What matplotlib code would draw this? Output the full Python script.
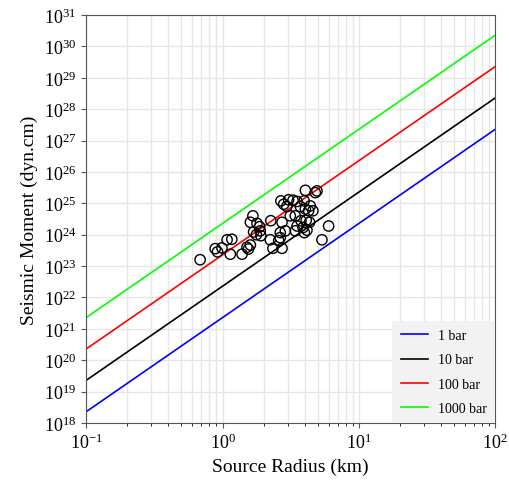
import numpy as np
import matplotlib.pyplot as plt

plt.rcParams['font.family'] = 'Liberation Serif'
plt.rcParams['mathtext.fontset'] = 'stix'

# Source radius (km) and seismic moment (dyn.cm) of the events
radius = [0.685, 0.884, 0.919, 0.99, 1.14, 1.08, 1.17, 1.39, 1.51, 1.60,
          1.55, 1.67, 1.60, 1.79, 1.87, 1.69, 1.77, 1.91, 1.89, 2.24,
          2.34, 2.58, 2.73, 2.65, 2.26, 2.68, 2.81, 3.05, 3.29, 3.52,
          2.96, 4.05, 4.93, 4.79, 3.72, 4.05, 4.28, 4.60, 2.73, 2.89,
          3.14, 3.42, 3.52, 3.76, 3.89, 3.98, 4.16, 4.35, 3.42, 6.0,
          5.36, 2.65, 4.11, 3.97, 4.40]
moment = [1.6e23, 3.6e23, 2.85e23, 3.8e23, 2.4e23, 6.9e23, 7.2e23, 2.4e23, 4.0e23, 4.7e23,
          3.5e23, 4.0e24, 2.5e24, 2.3e24, 1.8e24, 1.23e24, 1.0e24, 9.3e23, 1.33e24, 6.9e23,
          3.7e23, 6.5e23, 3.7e23, 8.1e23, 2.8e24, 1.2e25, 9.4e24, 1.3e25, 1.26e25, 1.15e25,
          8.0e24, 2.6e25, 2.5e25, 2.2e25, 7.9e24, 6.6e24, 5.8e24, 5.8e24, 2.5e24, 1.33e24,
          4.0e24, 4.0e24, 1.9e24, 2.8e24, 1.7e24, 1.17e24, 1.4e24, 2.5e24, 1.33e24, 1.9e24,
          6.9e23, 1.17e24, 2.9e24, 1.2e25, 8.3e24]

# Constant stress drop lines, end points
line_radius = [0.1, 100]
line_labels = ['1 bar', '10 bar', '100 bar', '1000 bar']
line_moments = [[2.29e18, 2.29e27],
                [2.29e19, 2.29e28],
                [2.29e20, 2.29e29],
                [2.29e21, 2.29e30]]
line_colors = ['blue', 'black', 'red', 'lime']

fig = plt.figure(figsize=(5.1, 4.81), dpi=100)
ax = fig.add_axes([0.169, 0.1185, 0.802, 0.848])

for m, lab, c in zip(line_moments, line_labels, line_colors):
    ax.plot(line_radius, m, color=c, lw=1.2, label=lab)

ax.scatter(radius, moment, s=55, facecolors='none', edgecolors='black', linewidths=1, zorder=3)

ax.set_xscale('log')
ax.set_yscale('log')
ax.set_xlim(0.1, 100)
ax.set_ylim(1e18, 1e31)
ax.set_yticks([10.0 ** k for k in range(18, 32)])
ax.grid(True, which='major', color='#e6e6e6', lw=1)
ax.grid(True, which='minor', axis='x', color='#e6e6e6', lw=1)
ax.set_axisbelow(True)
for s in ax.spines.values():
    s.set_color('#555555')
ax.tick_params(labelsize=13, colors='#555555', labelcolor='black')

ax.set_xlabel('Source Radius (km)', fontsize=14)
ax.set_ylabel('Seismic Moment (dyn.cm)', fontsize=14)

leg = ax.legend(loc='lower right', fontsize=10, borderaxespad=0, fancybox=False,
                frameon=True, borderpad=0.6, labelspacing=0.8, handletextpad=0.7)
leg.get_frame().set_facecolor('#f2f2f2')
leg.get_frame().set_edgecolor('none')
leg.get_frame().set_alpha(1)

fig.savefig('out.png')
